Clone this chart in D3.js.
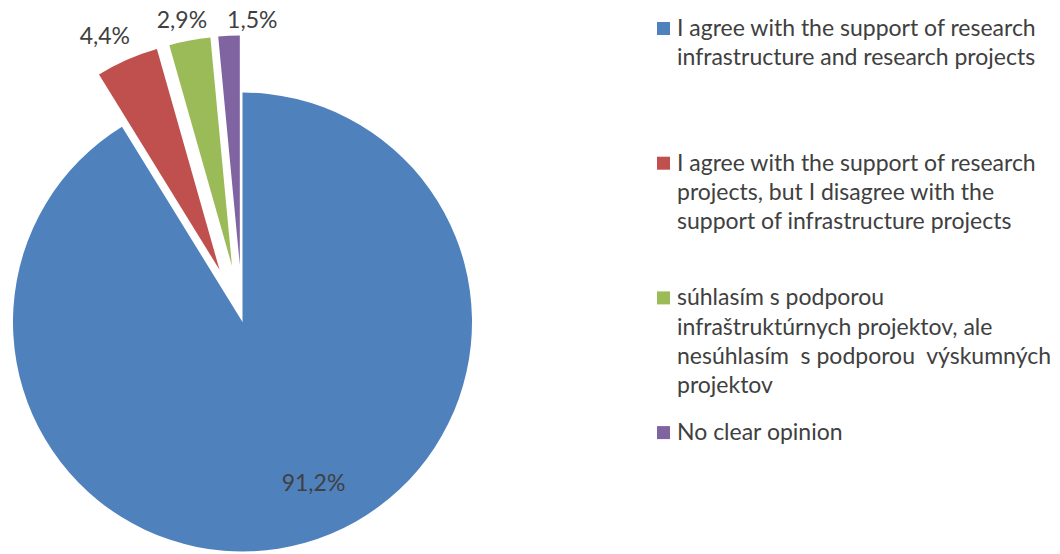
<!DOCTYPE html>
<html>
<head>
<meta charset="utf-8">
<script src="https://cdn.jsdelivr.net/npm/d3@7"></script>
<style>
  html, body { margin: 0; padding: 0; background: #fff; }
  svg { display: block; }
  text { font-family: Lato, "Open Sans", sans-serif; fill: #404040; }
</style>
</head>
<body>
<svg id="chart" width="1060" height="554"></svg>
<script>
// Survey answers and their shares (%)
const categories = [
  ["I agree with the support of research", "infrastructure and research projects"],
  ["I agree with the support of research", "projects, but I disagree with the", "support of infrastructure projects"],
  ["súhlasím s podporou", "infraštruktúrnych projektov, ale", "nesúhlasím  s podporou  výskumných", "projektov"],
  ["No clear opinion"]
];
const values = [91.2, 4.4, 2.9, 1.5];
const valueLabels = ["91,2%", "4,4%", "2,9%", "1,5%"];
const colors = ["#4F81BD", "#C0504D", "#9BBB59", "#8064A2"];
const exploded = [false, true, true, true];

const svg = d3.select("#chart");

// Pie geometry
const cx = 242.5, cy = 322, radius = 229.5;
const explodeDist = 57;
const labelRadius = [176, 255, 250, 245];
const labelNudge = [[23, -8], [-12, 0], [-4, 0], [24, 0]];
const fontSize = 23;

const pie = d3.pie().sort(null).value(d => d).startAngle(0).endAngle(2 * Math.PI);
const arcs = pie(values);
const arc = d3.arc().innerRadius(0).outerRadius(radius);

const g = svg.append("g").attr("transform", `translate(${cx},${cy})`);

function offsetOf(d, i) {
  if (!exploded[i]) return [0, 0];
  const mid = (d.startAngle + d.endAngle) / 2;
  return [Math.sin(mid) * explodeDist, -Math.cos(mid) * explodeDist];
}

g.selectAll("path.slice")
  .data(arcs)
  .join("path")
  .attr("class", "slice")
  .attr("d", arc)
  .attr("fill", (d, i) => colors[i])
  .attr("transform", (d, i) => {
    const [dx, dy] = offsetOf(d, i);
    return `translate(${dx},${dy})`;
  });

// Value labels
g.selectAll("text.value")
  .data(arcs)
  .join("text")
  .attr("class", "value")
  .attr("text-anchor", "middle")
  .attr("font-size", fontSize)
  .attr("x", (d, i) => {
    const mid = (d.startAngle + d.endAngle) / 2;
    return offsetOf(d, i)[0] + Math.sin(mid) * labelRadius[i] + labelNudge[i][0];
  })
  .attr("y", (d, i) => {
    const mid = (d.startAngle + d.endAngle) / 2;
    return offsetOf(d, i)[1] - Math.cos(mid) * labelRadius[i] + labelNudge[i][1] + 8;
  })
  .text((d, i) => valueLabels[i]);

// Legend
const legendX = 657, legendTop = 36, entryStep = 134.7, lineStep = 29.2, sw = 13;
const legend = svg.append("g");
const entries = legend.selectAll("g.entry")
  .data(categories)
  .join("g")
  .attr("class", "entry")
  .attr("transform", (d, i) => `translate(${legendX},${legendTop + i * entryStep})`);

entries.append("rect")
  .attr("x", 0).attr("y", -14)
  .attr("width", sw).attr("height", sw)
  .attr("fill", (d, i) => colors[i]);

entries.append("text")
  .attr("font-size", fontSize)
  .attr("xml:space", "preserve")
  .style("white-space", "pre")
  .selectAll("tspan")
  .data(d => d)
  .join("tspan")
  .attr("x", 20)
  .attr("y", (d, j) => j * lineStep)
  .text(d => d);
</script>
</body>
</html>
